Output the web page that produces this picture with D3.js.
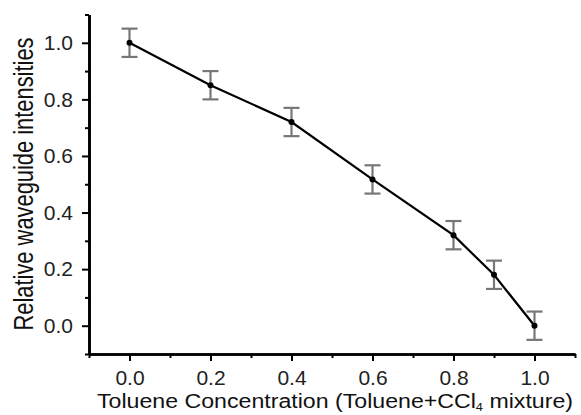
<!DOCTYPE html>
<html><head><meta charset="utf-8">
<script src="https://cdn.jsdelivr.net/npm/d3@7"></script>
<style>body{margin:0;background:#fff}svg{display:block}</style>
</head><body>
<svg id="c" width="581" height="415"></svg>
<script>
const concentration = [0.0, 0.2, 0.4, 0.6, 0.8, 0.9, 1.0];
const intensity = [1.0, 0.85, 0.72, 0.517, 0.32, 0.18, 0.0];
const errors = [0.05, 0.05, 0.05, 0.05, 0.05, 0.05, 0.05];
const xTicks = [0.0, 0.2, 0.4, 0.6, 0.8, 1.0];
const yTicks = [0.0, 0.2, 0.4, 0.6, 0.8, 1.0];
const xMinor = [-0.1, 0.1, 0.3, 0.5, 0.7, 0.9, 1.1];
const yMinor = [-0.1, 0.1, 0.3, 0.5, 0.7, 0.9, 1.1];

const svg = d3.select("#c");
const x = d3.scaleLinear().domain([-0.1, 1.1]).range([89, 575]);
const y = d3.scaleLinear().domain([-0.1, 1.1]).range([354, 14.5]);
const font = "Arial, 'Liberation Sans', sans-serif";

const xAxis = svg.append("g").attr("transform", "translate(0,354)")
  .call(d3.axisBottom(x).tickValues(xTicks).tickFormat(d3.format(".1f")).tickSize(7).tickPadding(9).tickSizeOuter(0));
const xAxisMinor = svg.append("g").attr("transform", "translate(0,354)")
  .call(d3.axisBottom(x).tickValues(xMinor).tickFormat("").tickSize(4).tickSizeOuter(0));
const yAxis = svg.append("g").attr("transform", "translate(89,0)")
  .call(d3.axisLeft(y).tickValues(yTicks).tickFormat(d3.format(".1f")).tickSize(7).tickPadding(9).tickSizeOuter(0));
const yAxisMinor = svg.append("g").attr("transform", "translate(89,0)")
  .call(d3.axisLeft(y).tickValues(yMinor).tickFormat("").tickSize(4).tickSizeOuter(0));

[xAxis, xAxisMinor, yAxis, yAxisMinor].forEach(g => {
  g.select(".domain").attr("stroke", "#000").attr("stroke-width", 2.6);
  g.selectAll(".tick line").attr("stroke", "#000").attr("stroke-width", 2);
  g.selectAll("text").attr("fill", "#222").attr("font-family", font).attr("font-size", 21);
});

// axis titles
svg.append("text").attr("x", 335).attr("y", 408).attr("text-anchor", "middle")
  .attr("font-family", font).attr("font-size", 20).attr("fill", "#111")
  .attr("textLength", 476).attr("lengthAdjust", "spacingAndGlyphs")
  .html('Toluene Concentration (Toluene+CCl<tspan dy="3" font-size="11">4</tspan><tspan dy="-3"> mixture)</tspan>');
svg.append("text").attr("transform", "translate(33,184) scale(1.3,1) rotate(-90)").attr("text-anchor", "middle")
  .attr("font-family", font).attr("font-size", 21).attr("fill", "#111")
  .attr("textLength", 293).attr("lengthAdjust", "spacingAndGlyphs")
  .text("Relative waveguide intensities");

const data = concentration.map((c, i) => ({c, v: intensity[i], e: errors[i]}));

// error bars
const eb = svg.append("g").attr("stroke", "#777").attr("stroke-width", 2.2).attr("fill", "none");
data.forEach(d => {
  eb.append("line").attr("x1", x(d.c)).attr("x2", x(d.c)).attr("y1", y(d.v + d.e)).attr("y2", y(d.v - d.e));
  eb.append("line").attr("x1", x(d.c) - 8).attr("x2", x(d.c) + 8).attr("y1", y(d.v + d.e)).attr("y2", y(d.v + d.e));
  eb.append("line").attr("x1", x(d.c) - 8).attr("x2", x(d.c) + 8).attr("y1", y(d.v - d.e)).attr("y2", y(d.v - d.e));
});

// line
svg.append("path").datum(data)
  .attr("d", d3.line().x(d => x(d.c)).y(d => y(d.v)))
  .attr("fill", "none").attr("stroke", "#000").attr("stroke-width", 2.2);

// points
svg.append("g").selectAll("circle").data(data).join("circle")
  .attr("cx", d => x(d.c)).attr("cy", d => y(d.v)).attr("r", 3).attr("fill", "#000");
</script>
</body></html>
